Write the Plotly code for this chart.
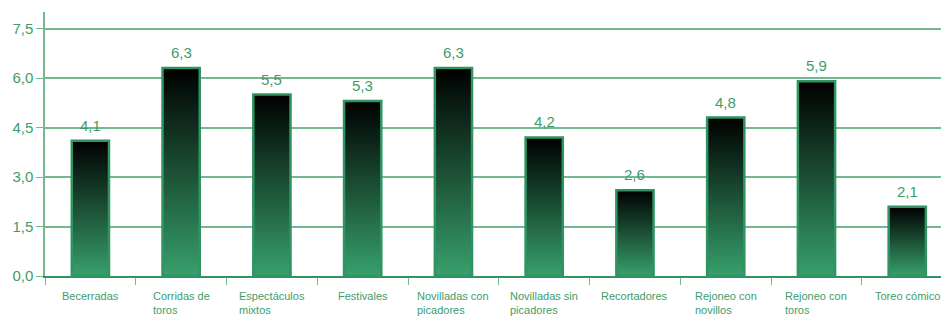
import plotly.graph_objects as go

categories = ["Becerradas", "Corridas de<br>toros", "Espectáculos<br>mixtos", "Festivales",
              "Novilladas con<br>picadores", "Novilladas sin<br>picadores", "Recortadores",
              "Rejoneo con<br>novillos", "Rejoneo con<br>toros", "Toreo cómico"]
values = [4.1, 6.3, 5.5, 5.3, 6.3, 4.2, 2.6, 4.8, 5.9, 2.1]
y_ticks = [0, 1.5, 3.0, 4.5, 6.0, 7.5]

TEXT = "#3e9c6c"
GRID = "#74b891"
EDGE = "#2f9462"
FONT = "Liberation Sans, Arial, sans-serif"
BW = 0.41

fig = go.Figure()
for i, v in enumerate(values):
    fig.add_trace(go.Scatter(
        x=[i - BW / 2, i + BW / 2, i + BW / 2, i - BW / 2, i - BW / 2],
        y=[0, 0, v, v, 0],
        mode="lines", fill="toself",
        fillgradient=dict(type="vertical", colorscale=[[0, "#37a06c"], [1, "#000000"]]),
        line=dict(color=EDGE, width=2.5),
        hoverinfo="skip", showlegend=False,
    ))

for i, v in enumerate(values):
    fig.add_annotation(x=i, y=v, xref="x", yref="y", yanchor="bottom", xanchor="center",
                       yshift=5, text=f"{v:.1f}".replace(".", ","), showarrow=False,
                       font=dict(family=FONT, size=15, color=TEXT))

for i, c in enumerate(categories):
    fig.add_annotation(x=i, y=0, xref="x", yref="paper", yanchor="top", xanchor="center",
                       yshift=-12, text=c, showarrow=False, align="left",
                       font=dict(family=FONT, size=11, color=TEXT))

# page body has an 8px margin; size the figure to fit the 949x317 window
fig.update_layout(
    width=941, height=309,
    margin=dict(l=37, r=0, t=4, b=41, autoexpand=False),
    paper_bgcolor="white", plot_bgcolor="white",
    separators=",.",
    xaxis=dict(range=[-0.5, len(values) - 0.54], tickvals=[i - 0.5 for i in range(len(values) + 1)],
               ticktext=[""] * (len(values) + 1), ticks="outside", ticklen=7, tickcolor=GRID,
               showgrid=False, showline=True, linecolor=EDGE, linewidth=2, zeroline=False,
               automargin=False),
    yaxis=dict(range=[0, 8], tickvals=y_ticks, tickformat=".1f", ticks="outside", ticklen=7,
               tickcolor=GRID, showgrid=True, gridcolor=GRID, gridwidth=1.5,
               showline=True, linecolor=GRID, linewidth=1.5, zeroline=False, automargin=False,
               tickfont=dict(family=FONT, size=15, color=TEXT)),
)

fig.write_html("out.html")
